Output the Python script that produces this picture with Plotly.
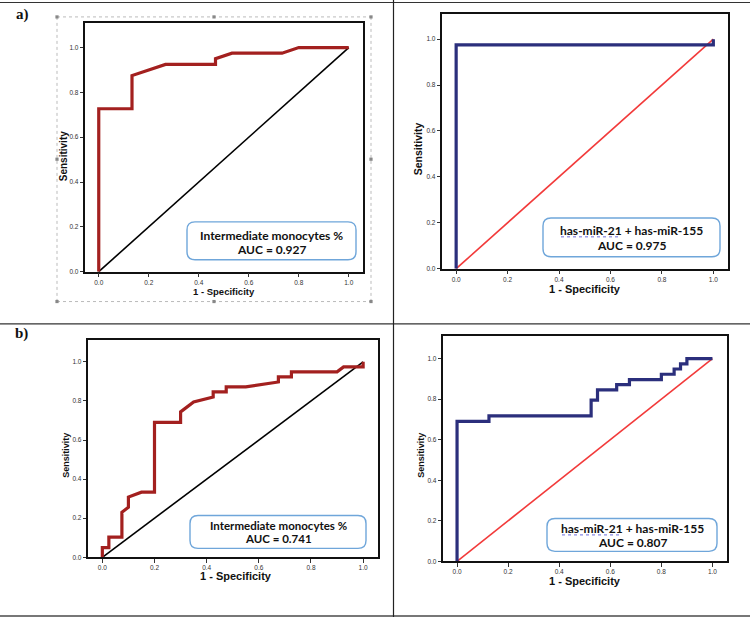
import plotly.graph_objects as go

# ---------------- data ----------------
# a) left: Intermediate monocytes %
a1_fpr = [0.0, 0.0, 0.133, 0.133, 0.267, 0.467, 0.467, 0.533, 0.733, 0.8, 1.0]
a1_tpr = [0.0, 0.727, 0.727, 0.875, 0.925, 0.925, 0.95, 0.975, 0.975, 1.0, 1.0]
# a) right: has-miR-21 + has-miR-155
a2_fpr = [0.0, 0.0, 1.0, 1.0]
a2_tpr = [0.0, 0.975, 0.975, 1.0]
# b) left: Intermediate monocytes %
b1_fpr = [0.0, 0.0, 0.025, 0.025, 0.075, 0.075, 0.1, 0.1, 0.15, 0.2, 0.2, 0.3, 0.3,
          0.35, 0.425, 0.425, 0.475, 0.475, 0.55, 0.675, 0.675, 0.725, 0.725, 0.9,
          0.925, 1.0, 1.0]
b1_tpr = [0.0, 0.05, 0.05, 0.103, 0.103, 0.23, 0.256, 0.308, 0.333, 0.333, 0.69, 0.69,
          0.744, 0.795, 0.82, 0.846, 0.846, 0.872, 0.872, 0.897, 0.923, 0.923, 0.949,
          0.949, 0.974, 0.974, 1.0]
# b) right: has-miR-21 + has-miR-155
b2_fpr = [0.0, 0.0, 0.125, 0.125, 0.525, 0.525, 0.55, 0.55, 0.625, 0.625, 0.675, 0.675,
          0.8, 0.8, 0.85, 0.85, 0.875, 0.875, 0.9, 0.9, 1.0]
b2_tpr = [0.0, 0.69, 0.69, 0.718, 0.718, 0.795, 0.795, 0.846, 0.846, 0.872, 0.872, 0.897,
          0.897, 0.923, 0.923, 0.949, 0.949, 0.974, 0.974, 1.0, 1.0]
ref_line = [0.0, 1.0]

tick_vals = [0.0, 0.2, 0.4, 0.6, 0.8, 1.0]
tick_text = ["0.0", "0.2", "0.4", "0.6", "0.8", "1.0"]

labels_a1 = ["Intermediate monocytes %", "AUC = 0.927"]
labels_a2 = ["has-miR-21 + has-miR-155", "AUC = 0.975"]
labels_b1 = ["Intermediate monocytes %", "AUC = 0.741"]
labels_b2 = ["has-miR-21 + has-miR-155", "AUC = 0.807"]

# ---------------- layout helpers ----------------
W, H = 750, 622
def PX(x):
    return x / W
def PY(y):
    return 1 - y / H

RED_ROC = "#A3201F"
NAVY = "#2B2F7C"
RED_REF = "#F23A3A"
BOX_BLUE = "#6FA6DA"

fig = go.Figure()

panels = [
    dict(fpr=a1_fpr, tpr=a1_tpr, c=RED_ROC, rc="black", box=(85, 363, 23, 273)),
    dict(fpr=a2_fpr, tpr=a2_tpr, c=NAVY, rc=RED_REF, box=(442, 728, 14, 270)),
    dict(fpr=b1_fpr, tpr=b1_tpr, c=RED_ROC, rc="black", box=(88, 378, 342, 560)),
    dict(fpr=b2_fpr, tpr=b2_tpr, c=NAVY, rc=RED_REF, box=(443, 727, 338, 564)),
]

XR = [-0.055, 1.057]
YR = [0.0, 1.11]

for i, p in enumerate(panels):
    n = "" if i == 0 else str(i + 1)
    x0, x1, y0, y1 = p["box"]
    fig.add_trace(go.Scatter(x=ref_line, y=ref_line, mode="lines",
                             line=dict(color=p["rc"], width=1.6),
                             xaxis="x" + n, yaxis="y" + n, showlegend=False,
                             hoverinfo="skip"))
    fig.add_trace(go.Scatter(x=p["fpr"], y=p["tpr"], mode="lines",
                             line=dict(color=p["c"], width=3.2),
                             xaxis="x" + n, yaxis="y" + n, showlegend=False))
    axcommon = dict(showgrid=False, zeroline=False, showline=True, mirror=True,
                    linecolor="#111", linewidth=1.5, ticks="outside", ticklen=3.5,
                    tickwidth=1, tickcolor="#333", tickvals=tick_vals, ticktext=tick_text,
                    tickfont=dict(family="Liberation Sans", size=6.5, color="#333"),
                    fixedrange=True)
    fig.update_layout(**{
        "xaxis" + n: dict(domain=[PX(x0), PX(x1)], range=XR, anchor="y" + n, **axcommon),
        "yaxis" + n: dict(domain=[PY(y1), PY(y0)], range=YR, anchor="x" + n, **axcommon),
    })

shapes = []
annotations = []

def line(x0, y0, x1, y1, color, width, dash="solid"):
    shapes.append(dict(type="line", xref="paper", yref="paper",
                       x0=PX(x0), y0=PY(y0), x1=PX(x1), y1=PY(y1),
                       line=dict(color=color, width=width, dash=dash)))

def rrect(x0, y0, x1, y1, r=8):
    pts = lambda x, y: f"{PX(x):.5f},{PY(y):.5f}"
    path = (f"M {pts(x0 + r, y0)} L {pts(x1 - r, y0)} Q {pts(x1, y0)} {pts(x1, y0 + r)} "
            f"L {pts(x1, y1 - r)} Q {pts(x1, y1)} {pts(x1 - r, y1)} "
            f"L {pts(x0 + r, y1)} Q {pts(x0, y1)} {pts(x0, y1 - r)} "
            f"L {pts(x0, y0 + r)} Q {pts(x0, y0)} {pts(x0 + r, y0)} Z")
    shapes.append(dict(type="path", xref="paper", yref="paper", path=path,
                       fillcolor="white", line=dict(color=BOX_BLUE, width=1.4),
                       layer="above"))

def text(x, y, s, size, family="Liberation Sans", bold=True, color="#111", angle=0):
    annotations.append(dict(xref="paper", yref="paper", x=PX(x), y=PY(y),
                            text=f"<b>{s}</b>" if bold else s, showarrow=False,
                            xanchor="center", yanchor="middle", textangle=angle,
                            font=dict(family=family, size=size, color=color)))

# table rules
line(0, 2.5, 750, 2.5, "#333", 1.2)
line(0, 325.5, 750, 325.5, "#333", 1.2)
line(0, 619, 750, 619, "#777", 2.2)
line(393.5, 0, 393.5, 620, "#222", 1.2)

# dotted selection frame around panel a-left
line(57, 17, 371, 17, "#aaa", 0.8, "dot")
line(57, 303, 371, 303, "#aaa", 0.8, "dot")
line(57, 17, 57, 303, "#aaa", 0.8, "dot")
line(371, 17, 371, 303, "#aaa", 0.8, "dot")
for hx, hy in [(57, 17), (214, 17), (371, 17), (57, 160), (371, 160),
               (57, 303), (214, 303), (371, 303)]:
    shapes.append(dict(type="rect", xref="paper", yref="paper",
                       x0=PX(hx - 1.6), x1=PX(hx + 1.6), y0=PY(hy + 1.6), y1=PY(hy - 1.6),
                       fillcolor="#888", line=dict(width=0)))

# panel letters
text(22, 15, "a)", 15, family="Liberation Serif")
text(21, 335, "b)", 15, family="Liberation Serif")

# axis titles
text(224, 292.5, "1 - Specificity", 9.5)
text(63, 157, "Sensitivity", 10, angle=-90)
text(585, 290.5, "1 - Specificity", 11)
text(418, 150, "Sensitivity", 10.5, angle=-90)
text(236, 578.5, "1 - Specificity", 11)
text(66, 458, "Sensitivity", 9, angle=-90)
text(585, 583.5, "1 - Specificity", 11)
text(421, 458, "Sensitivity", 9, angle=-90)

# AUC boxes
FONT_BOX = "Lato"
FS = 12
rrect(187, 223, 356, 261)
text(271.5, 237, labels_a1[0], FS, family=FONT_BOX)
text(271.5, 250.5, labels_a1[1], FS, family=FONT_BOX)

rrect(543, 219, 720, 258)
text(631.5, 232, labels_a2[0], FS, family=FONT_BOX)
text(631.5, 247, labels_a2[1], FS, family=FONT_BOX)
line(561, 238, 621, 238, "#6b6bdc", 1, "dot")

rrect(190, 518, 366, 551)
text(278, 528.5, labels_b1[0], 11.5, family=FONT_BOX)
text(278, 541.5, labels_b1[1], 11.5, family=FONT_BOX)

rrect(547, 521, 717, 554)
text(632, 531.5, labels_b2[0], FS, family=FONT_BOX)
text(632, 545, labels_b2[1], FS, family=FONT_BOX)
line(562, 537.5, 622, 537.5, "#6b6bdc", 1, "dot")

fig.update_layout(width=W, height=H, autosize=False,
                  margin=dict(l=0, r=0, t=0, b=0),
                  paper_bgcolor="white", plot_bgcolor="white",
                  shapes=shapes, annotations=annotations, showlegend=False)

fig.write_html("out.html", config={"displayModeBar": False},
               post_script="document.body.style.margin='0';document.body.style.overflow='hidden';")
